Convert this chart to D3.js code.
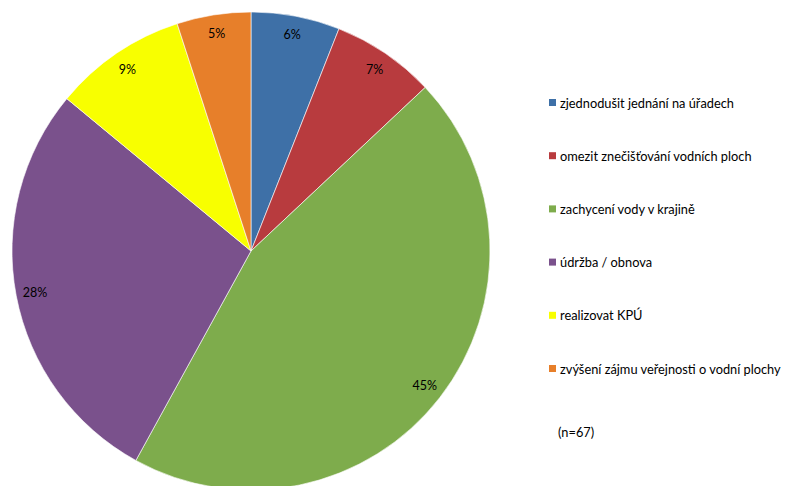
<!DOCTYPE html>
<html><head><meta charset="utf-8">
<script src="https://cdn.jsdelivr.net/npm/d3@7"></script>
<style>html,body{margin:0;padding:0;background:#fff;}svg{display:block;}</style>
</head><body>
<script>
const categories = ["zjednodušit jednání na úřadech","omezit znečišťování vodních ploch","zachycení vody v krajině","údržba / obnova","realizovat KPÚ","zvýšení zájmu veřejnosti o vodní plochy"];
const values = [6, 7, 45, 28, 9, 5];
const colors = ["#3E70A7","#B83B3E","#7EAC4C","#7A518C","#F8FF00","#E77F2A"];
const note = "(n=67)";

const W = 786, H = 486;
const svg = d3.select("body").append("svg").attr("width", W).attr("height", H);
const font = "Lato, 'Open Sans', sans-serif";
const cx = 251, cy = 251, r = 239, labelR = 220;

const pie = d3.pie().sort(null).value(d => d)(values);
const arc = d3.arc().innerRadius(0).outerRadius(r);
const labelArc = d3.arc().innerRadius(labelR).outerRadius(labelR);
const color = d3.scaleOrdinal().domain(d3.range(values.length)).range(colors);

const g = svg.append("g").attr("transform", `translate(${cx},${cy})`);
g.selectAll("path").data(pie).join("path")
  .attr("d", arc).attr("fill", (d,i) => color(i))
  .attr("stroke", "#fff").attr("stroke-width", 0.6);
g.selectAll("text").data(pie).join("text")
  .attr("transform", d => `translate(${labelArc.centroid(d)})`)
  .attr("text-anchor", "middle").attr("dominant-baseline", "central")
  .attr("font-family", font).attr("font-size", 12.5).attr("fill", "#000")
  .text(d => d.value + "%");

const legY = d3.scalePoint().domain(d3.range(categories.length)).range([102.5, 368.5]);
const leg = svg.append("g");
const rows = leg.selectAll("g").data(categories).join("g")
  .attr("transform", (d,i) => `translate(549,${legY(i)})`);
rows.append("rect").attr("x", 0).attr("y", -3.5).attr("width", 7).attr("height", 7)
  .attr("fill", (d,i) => color(i));
rows.append("text").attr("x", 11).attr("y", 0).attr("dominant-baseline", "central")
  .attr("font-family", font).attr("font-size", 12.8).attr("fill", "#000").text(d => d);
svg.append("text").attr("x", 558).attr("y", 432).attr("dominant-baseline", "central")
  .attr("font-family", font).attr("font-size", 12.8).attr("fill", "#000").text(note);
</script>
</body></html>
